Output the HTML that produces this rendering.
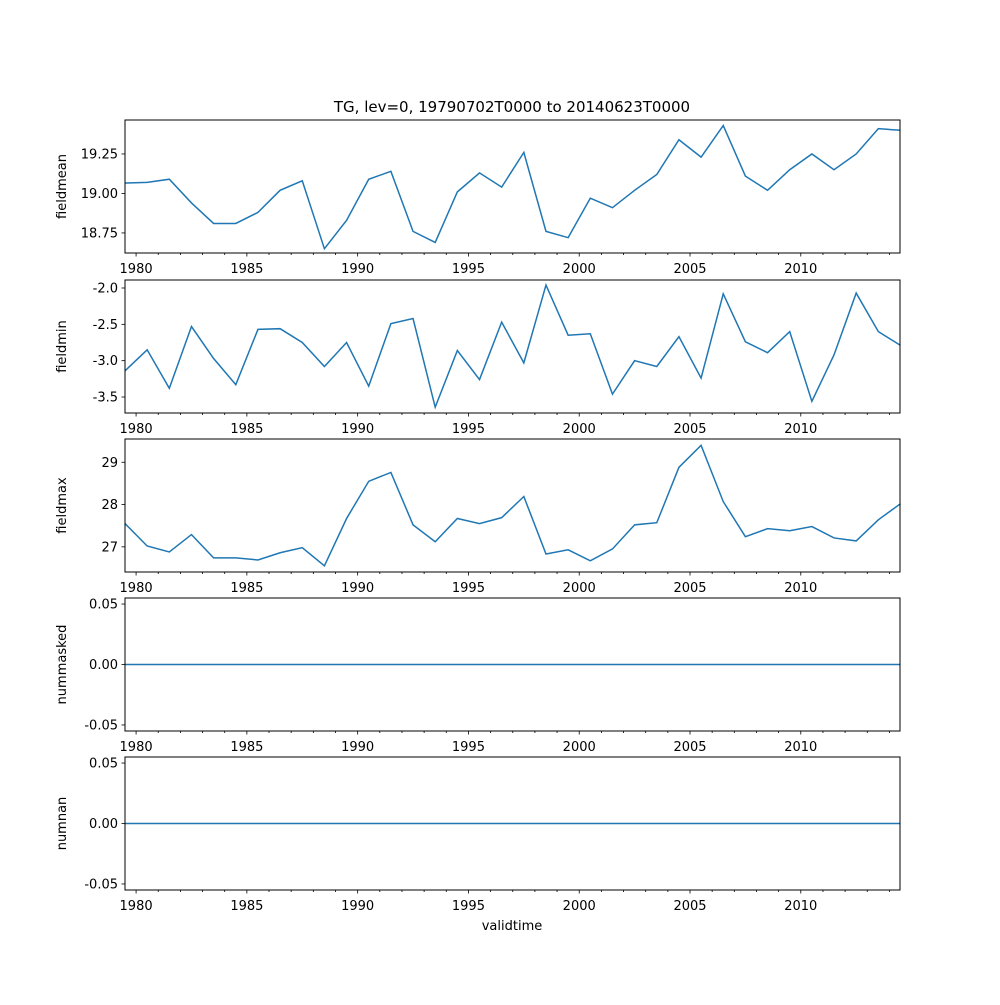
<!DOCTYPE html>
<html><head><meta charset="utf-8"><style>
body{margin:0;background:#fff;}
svg text{font-family:"DejaVu Sans","Liberation Sans",sans-serif;font-size:13px;fill:#000;}
</style></head><body>
<svg id="fig" width="1000" height="1000" viewBox="0 0 1000 1000">
<text x="512" y="112" text-anchor="middle" style="font-size:15px">TG, lev=0, 19790702T0000 to 20140623T0000</text>
<text x="512" y="930" text-anchor="middle">validtime</text>
</svg>
<script>
const years = [1979,1980,1981,1982,1983,1984,1985,1986,1987,1988,1989,1990,1991,1992,1993,1994,1995,1996,1997,1998,1999,2000,2001,2002,2003,2004,2005,2006,2007,2008,2009,2010,2011,2012,2013,2014];
const fieldmean = [19.066,19.07,19.09,18.94,18.81,18.81,18.88,19.02,19.08,18.65,18.83,19.09,19.14,18.76,18.69,19.01,19.13,19.04,19.26,18.76,18.72,18.97,18.91,19.02,19.12,19.34,19.23,19.43,19.11,19.02,19.15,19.25,19.15,19.25,19.41,19.40];
const fieldmin = [-3.14,-2.85,-3.38,-2.53,-2.97,-3.33,-2.57,-2.56,-2.75,-3.08,-2.75,-3.35,-2.49,-2.42,-3.64,-2.86,-3.26,-2.47,-3.03,-1.96,-2.65,-2.63,-3.46,-3.0,-3.08,-2.67,-3.24,-2.08,-2.74,-2.89,-2.6,-3.56,-2.92,-2.07,-2.6,-2.79];
const fieldmax = [27.55,27.02,26.88,27.29,26.74,26.74,26.69,26.86,26.98,26.55,27.67,28.55,28.76,27.52,27.12,27.67,27.55,27.69,28.19,26.83,26.93,26.67,26.95,27.52,27.57,28.88,29.4,28.07,27.24,27.43,27.38,27.48,27.21,27.14,27.64,28.02];
const nummasked = years.map(()=>0);
const numnan = years.map(()=>0);
const xMajorTicks = [1980,1985,1990,1995,2000,2005,2010];
const panelNames = ["fieldmean","fieldmin","fieldmax","nummasked","numnan"];
const yTickLabels = [["18.75","19.00","19.25"],["-3.5","-3.0","-2.5","-2.0"],["27","28","29"],["-0.05","0.00","0.05"],["-0.05","0.00","0.05"]];
const yTickValues = [[18.75,19.0,19.25],[-3.5,-3.0,-2.5,-2.0],[27,28,29],[-0.05,0,0.05],[-0.05,0,0.05]];
const yLims = [[18.623,19.465],[-3.72,-1.89],[26.405,29.55],[-0.055,0.055],[-0.055,0.055]];
const series = [fieldmean,fieldmin,fieldmax,nummasked,numnan];

const NS="http://www.w3.org/2000/svg";
const svg=document.getElementById('fig');
const X0=125,X1=900, T0=1979.5, T1=2014.4775;
const tops=[120,280,439,598,757], H=133;
function xs(t){return X0+(t-T0)/(T1-T0)*(X1-X0);}
function mk(tag,attrs){const e=document.createElementNS(NS,tag);for(const k in attrs)e.setAttribute(k,attrs[k]);svg.appendChild(e);return e;}
series.forEach((data,p)=>{
  const top=tops[p],bot=top+H,[lo,hi]=yLims[p];
  const ys=v=>bot-(v-lo)/(hi-lo)*H;
  const pts=data.map((v,i)=>xs(years[i]+0.5)+','+ys(v)).join(' ');
  const line=mk('polyline',{points:pts,fill:'none',stroke:'#1f77b4','stroke-width':1.5});
  
  
  const fr=mk('rect',{x:X0,y:top,width:X1-X0,height:H,fill:'none',stroke:'#000','stroke-width':1});
  
  
  for(let y=1980;y<=2014;y++){
    const x=xs(y), major=xMajorTicks.includes(y);
    mk('line',{x1:x,x2:x,y1:bot,y2:bot+(major?3.5:2),stroke:'#000','stroke-width':0.8});
    if(major){
      const t=mk('text',{x:x,y:bot+20,'text-anchor':'middle'});t.textContent=y;
      
      
    }
  }
  yTickValues[p].forEach((v,i)=>{
    const y=ys(v);
    mk('line',{x1:X0-3.5,x2:X0,y1:y,y2:y,stroke:'#000','stroke-width':0.8});
    const t=mk('text',{x:X0-7,y:y+4.5,'text-anchor':'end'});t.textContent=yTickLabels[p][i];
    
    
  });
  const yl=mk('text',{x:0,y:0,'text-anchor':'middle',transform:'translate(66,'+(top+H/2)+') rotate(-90)'});
  yl.textContent=panelNames[p];
  
  
});
</script>
</body></html>
